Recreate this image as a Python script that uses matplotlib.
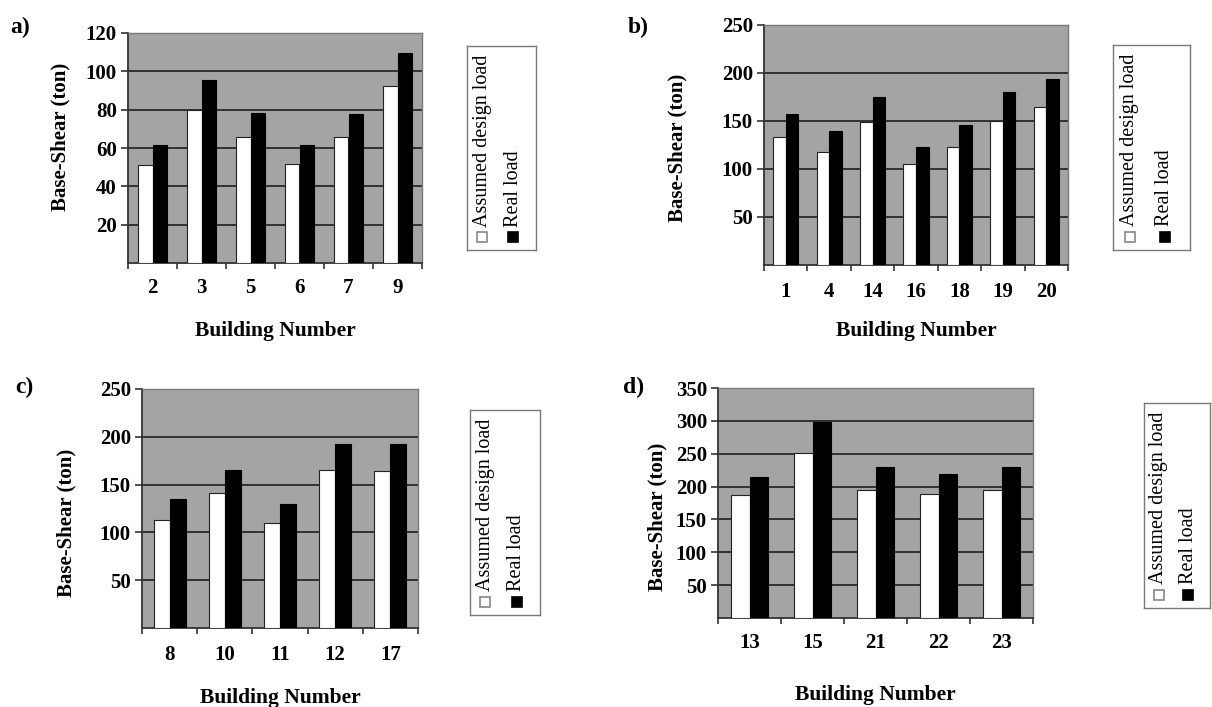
"""Base-shear comparison: assumed design load vs real load, four building groups."""

import numpy as np
from matplotlib import pyplot as plt
from matplotlib.patches import Rectangle

# panel a
buildings_a = ['2', '3', '5', '6', '7', '9']
assumed_a = [51, 80, 66, 51.5, 65.5, 92.5]
real_a = [61.5, 95.5, 78.5, 61.5, 77.5, 109.5]

# panel b
buildings_b = ['1', '4', '14', '16', '18', '19', '20']
assumed_b = [133, 118, 149, 105, 122.5, 150, 165]
real_b = [157.5, 139.5, 175.5, 123, 145.5, 180, 193.5]

# panel c
buildings_c = ['8', '10', '11', '12', '17']
assumed_c = [112.5, 141, 109.5, 165.5, 164.5]
real_c = [135, 165.5, 130, 192.5, 192.5]

# panel d
buildings_d = ['13', '15', '21', '22', '23']
assumed_d = [186.5, 251, 195.5, 188.5, 195.5]
real_d = [214, 298, 230, 218.5, 230.5]

W, H = 1212, 707
plt.rcParams['font.family'] = ['Liberation Serif', 'DejaVu Serif']


def px_box(x0, y0, x1, y1):
    return [x0 / W, 1 - y1 / H, (x1 - x0) / W, (y1 - y0) / H]


def bar_panel(fig, box, names, assumed, real, ymax, step, ylab_xy, tick_pad, xlab_pad):
    ax = fig.add_axes(px_box(*box))
    ax.set_facecolor('#a4a4a4')
    x = np.arange(len(names))
    w = 0.29
    ax.bar(x - w / 2, assumed, w, color='white', edgecolor='#222222', linewidth=0.8, zorder=3)
    ax.bar(x + w / 2, real, w, color='black', edgecolor='black', linewidth=0.8, zorder=3)
    ax.set_xlim(-0.5, len(names) - 0.5)
    ax.set_ylim(0, ymax)
    ax.set_yticks(np.arange(step, ymax + 1, step))
    ax.set_xticks(x)
    ax.set_xticklabels(names)
    ax.set_xticks(np.arange(len(names) + 1) - 0.5, minor=True)
    ax.tick_params(axis='x', which='major', length=0, pad=tick_pad, labelsize=15)
    ax.tick_params(axis='x', which='minor', length=4, width=1.2, direction='out', color='#333333')
    ax.tick_params(axis='y', length=5, width=1.2, pad=3, labelsize=15, color='#333333')
    for lab in ax.get_xticklabels() + ax.get_yticklabels():
        lab.set_fontweight('bold')
    ax.yaxis.grid(True, color='#1e1e1e', linewidth=1.2, zorder=1)
    ax.set_axisbelow(True)
    for side in ['top', 'right']:
        ax.spines[side].set_color('#7a7a7a')
        ax.spines[side].set_linewidth(1.0)
    for side in ['left', 'bottom']:
        ax.spines[side].set_color('#333333')
        ax.spines[side].set_linewidth(1.3)
    ax.set_ylabel('Base-Shear (ton)', fontsize=15, fontweight='bold')
    ax.yaxis.set_label_coords(*ylab_xy)
    ax.set_xlabel('Building Number', fontsize=15.5, fontweight='bold', labelpad=xlab_pad)
    return ax


def legend_box(fig, box):
    lax = fig.add_axes(px_box(*box))
    lax.set_xlim(0, 1)
    lax.set_ylim(0, 1)
    lax.set_xticks([])
    lax.set_yticks([])
    for s in lax.spines.values():
        s.set_color('#7a7a7a')
        s.set_linewidth(1.0)
    bw = 10 / (box[2] - box[0])
    bh = 10 / (box[3] - box[1])
    for cx, face, edge, label in [(0.22, 'white', '#888888', 'Assumed design load'),
                                  (0.67, 'black', 'black', 'Real load')]:
        lax.add_patch(Rectangle((cx - bw / 2, 0.065 - bh / 2), bw, bh, facecolor=face,
                                edgecolor=edge, linewidth=1.2))
        lax.text(cx, 0.115, label, rotation=90, ha='center', va='bottom', fontsize=14.5)
    return lax


fig = plt.figure(figsize=(W / 100, H / 100), dpi=100)

bar_panel(fig, (128, 33, 422, 263), buildings_a, assumed_a, real_a, 120, 20, (-0.197, 0.55), 11, 16)
bar_panel(fig, (764, 25, 1068, 265), buildings_b, assumed_b, real_b, 250, 50, (-0.253, 0.49), 12, 14)
bar_panel(fig, (142, 389, 418, 628), buildings_c, assumed_c, real_c, 250, 50, (-0.236, 0.44), 12, 17)
bar_panel(fig, (718, 388, 1033, 618), buildings_d, assumed_d, real_d, 350, 50, (-0.159, 0.44), 11, 23)

legend_box(fig, (467, 46, 536, 250))
legend_box(fig, (1113, 45, 1190, 250))
legend_box(fig, (470, 410, 540, 615))
legend_box(fig, (1144, 403, 1210, 608))

for lab, xp, yp in [('a)', 10, 33), ('b)', 628, 33), ('c)', 15, 393), ('d)', 623, 393)]:
    fig.text(xp / W, 1 - yp / H, lab, fontsize=17, fontweight='bold', ha='left', va='baseline')

fig.savefig('out.png', dpi=100)
